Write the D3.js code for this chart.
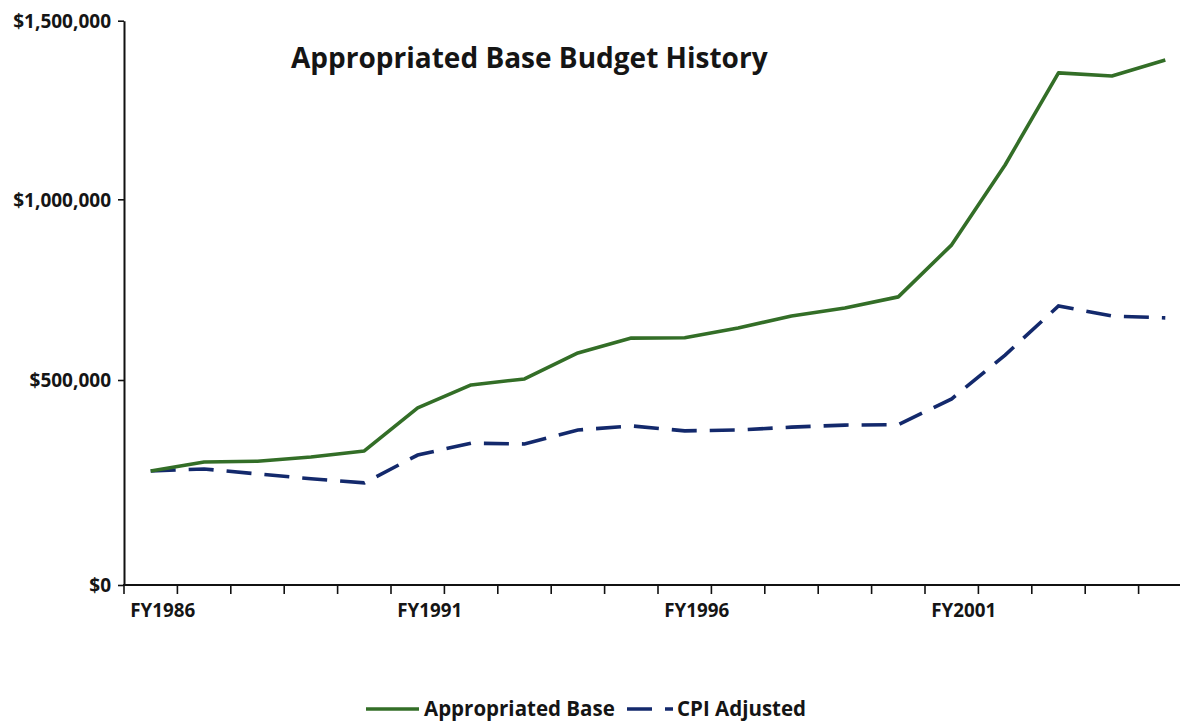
<!DOCTYPE html>
<html>
<head>
<meta charset="utf-8">
<script src="https://cdn.jsdelivr.net/npm/d3@7"></script>
<style>
  html, body { margin: 0; padding: 0; background: #fff; }
  svg text { font-family: "Open Sans", "Noto Sans", sans-serif; font-weight: 700; fill: #151515; }
</style>
</head>
<body>
<svg id="chart" width="1180" height="721"></svg>
<script>
// Fiscal years on the category axis
const years = ["FY1986","FY1987","FY1988","FY1989","FY1990","FY1991","FY1992","FY1993","FY1994","FY1995",
               "FY1996","FY1997","FY1998","FY1999","FY2000","FY2001","FY2002","FY2003","FY2004","FY2005"];
// Appropriated base budget (dollars)
const appropriatedBase = [278000, 300000, 302000, 312000, 327000, 432000, 488000, 503000, 575000, 616000,
                          617000, 644000, 677000, 699000, 730000, 874000, 1096000, 1354000, 1345000, 1390000];
// Same budget adjusted by CPI (dollars)
const cpiAdjusted = [278000, 283000, 271000, 259000, 249000, 317000, 346000, 344000, 378000, 388000,
                     376000, 378000, 385000, 390000, 391000, 454000, 569000, 705000, 677000, 672000];
// Value-axis ticks and the labelled categories
const yTicks = [0, 500000, 1000000, 1500000];
const xLabels = ["FY1986", "FY1991", "FY1996", "FY2001"];

const svg = d3.select("#chart");
const axisX0 = 124, band = 53.4;

const x = d3.scaleBand().domain(years).range([axisX0, axisX0 + band * years.length]).padding(0);
// value axis: the zero line sits a little lower than an even spacing
const y = d3.scaleLinear().domain([0, 500000, 1000000, 1500000]).range([585, 380, 199.3, 20.7]);

const cx = d => x(d) + x.bandwidth() / 2;

// Y axis
const yAxis = svg.append("g").attr("transform", `translate(${axisX0},0)`)
  .call(d3.axisLeft(y).tickValues(yTicks).tickSize(6).tickSizeOuter(0).tickFormat(d3.format("$,")));
yAxis.select(".domain").attr("stroke", "#111").attr("stroke-width", 2);
yAxis.selectAll(".tick line").attr("stroke", "#111").attr("stroke-width", 1.6);
yAxis.selectAll(".tick text").attr("x", -13).attr("dy", "0.36em")
  .style("font-size", "19px").style("font-family", "'Open Sans', sans-serif").style("font-weight", 700).attr("fill", "#151515");

// X axis line with category-boundary ticks
const xAxisG = svg.append("g");
xAxisG.append("line").attr("x1", axisX0 - 1).attr("x2", 1180).attr("y1", y(0)).attr("y2", y(0))
  .attr("stroke", "#111").attr("stroke-width", 2);
xAxisG.selectAll("line.tick").data(years).join("line").attr("class", "tick")
  .attr("x1", d => x(d)).attr("x2", d => x(d))
  .attr("y1", y(0)).attr("y2", y(0) + 9)
  .attr("stroke", "#111").attr("stroke-width", 1.6);
xAxisG.selectAll("text").data(xLabels).join("text")
  .attr("x", d => cx(d) + 12).attr("y", 617)
  .attr("text-anchor", "middle").style("font-size", "18.8px").text(d => d);

// Series lines
const line = vals => d3.line().x((v, i) => cx(years[i])).y(v => y(v))(vals);
svg.append("path").attr("d", line(cpiAdjusted)).attr("fill", "none")
  .attr("stroke", "#13296C").attr("stroke-width", 3.6).attr("stroke-dasharray", "25,13");
svg.append("path").attr("d", line(appropriatedBase)).attr("fill", "none")
  .attr("stroke", "#336E27").attr("stroke-width", 3.6).attr("stroke-linejoin", "round");

// Title
svg.append("text").attr("x", 291).attr("y", 68).style("font-size", "28px").text("Appropriated Base Budget History");

// Legend
const lg = svg.append("g");
lg.append("line").attr("x1", 366).attr("x2", 419).attr("y1", 709).attr("y2", 709)
  .attr("stroke", "#336E27").attr("stroke-width", 3.6);
lg.append("text").attr("x", 424).attr("y", 716).style("font-size", "20.5px").text("Appropriated Base");
lg.append("line").attr("x1", 627).attr("x2", 673).attr("y1", 709).attr("y2", 709)
  .attr("stroke", "#13296C").attr("stroke-width", 3.6).attr("stroke-dasharray", "25,13");
lg.append("text").attr("x", 677).attr("y", 716).style("font-size", "20.5px").text("CPI Adjusted");
</script>
</body>
</html>
